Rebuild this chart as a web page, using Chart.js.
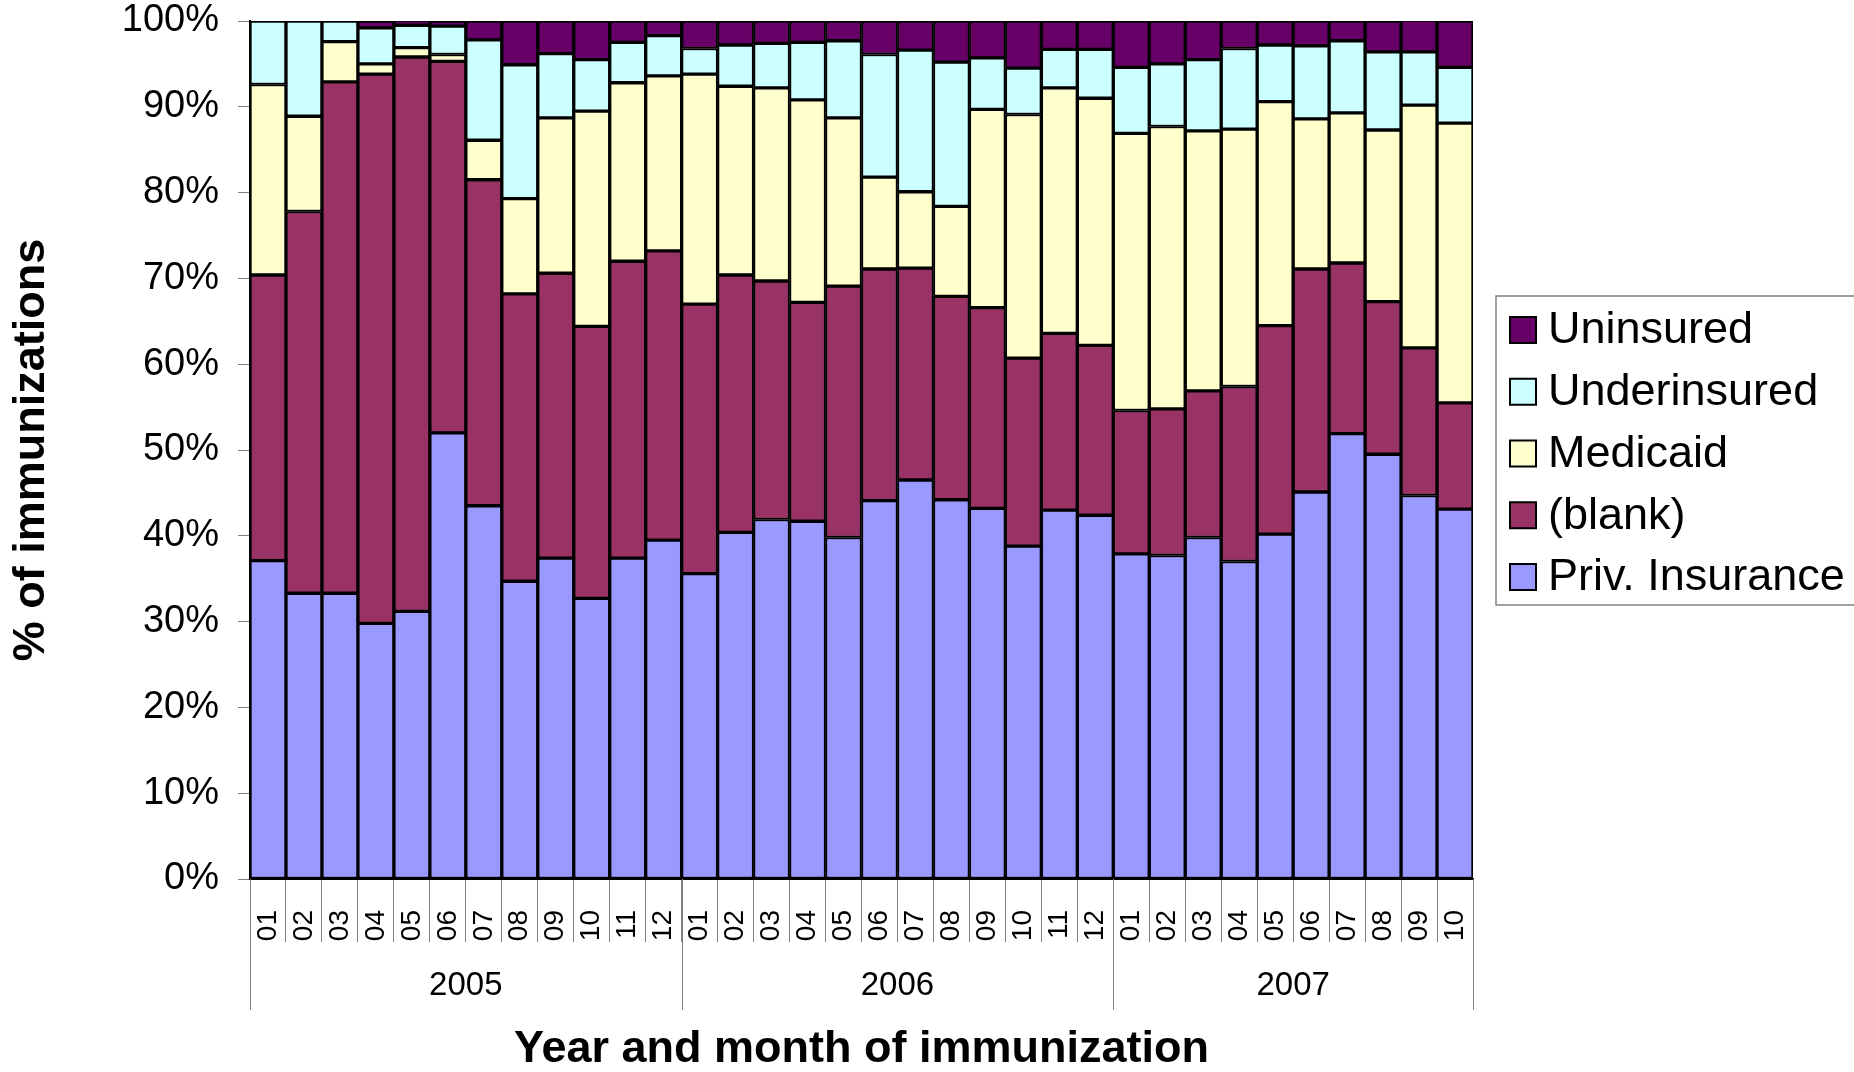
<!DOCTYPE html>
<html>
<head>
<meta charset="utf-8">
<title>Immunizations by insurance type</title>
<script src="https://cdn.jsdelivr.net/npm/chart.js@4.4.1/dist/chart.umd.min.js"></script>
<style>
  html, body { margin: 0; padding: 0; background: #fff; }
  #wrap { width: 1854px; height: 1072px; }
</style>
</head>
<body>
<div id="wrap"><canvas id="chart" width="1854" height="1072"></canvas></div>
<script>
// --- data (percent of immunizations per month) ---
const YEARS = ['2005', '2006', '2007'];
const MONTHS_PER_YEAR = [12, 12, 10];
const MONTHS = [
  '01','02','03','04','05','06','07','08','09','10','11','12',
  '01','02','03','04','05','06','07','08','09','10','11','12',
  '01','02','03','04','05','06','07','08','09','10'
];

const PRIV_INSURANCE = [
  37.1, 33.3, 33.3, 29.8, 31.2, 52.0, 43.5, 34.7, 37.4, 32.7, 37.4, 39.5,
  35.6, 40.4, 41.9, 41.7, 39.8, 44.1, 46.5, 44.2, 43.2, 38.8, 43.0, 42.4,
  37.9, 37.7, 39.8, 37.0, 40.2, 45.1, 51.9, 49.5, 44.7, 43.1
];
const BLANK = [
  33.3, 44.5, 59.6, 64.0, 64.6, 43.3, 38.0, 33.5, 33.2, 31.7, 34.6, 33.7,
  31.4, 30.0, 27.8, 25.5, 29.3, 27.0, 24.7, 23.7, 23.4, 21.9, 20.6, 19.8,
  16.7, 17.1, 17.1, 20.4, 24.3, 26.0, 19.9, 17.8, 17.2, 12.4
];
const MEDICAID = [
  22.2, 11.1, 4.7, 1.2, 1.1, 0.8, 4.6, 11.1, 18.1, 25.1, 20.8, 20.4,
  26.8, 22.0, 22.5, 23.6, 19.6, 10.7, 8.9, 10.5, 23.1, 28.4, 28.6, 28.8,
  32.3, 32.9, 30.3, 30.0, 26.1, 17.5, 17.5, 20.0, 28.3, 32.6
];
const UNDERINSURED = [
  7.4, 11.1, 2.4, 4.2, 2.6, 3.3, 11.7, 15.6, 7.5, 6.0, 4.7, 4.7,
  3.0, 4.8, 5.2, 6.7, 9.0, 14.3, 16.5, 16.8, 6.0, 5.4, 4.5, 5.7,
  7.7, 7.3, 8.3, 9.4, 6.6, 8.5, 8.4, 9.1, 6.2, 6.5
];
const UNINSURED = [
  0, 0, 0, 0.8, 0.6, 0.6, 2.2, 5.1, 3.8, 4.5, 2.5, 1.7,
  3.2, 2.8, 2.6, 2.5, 2.3, 3.9, 3.4, 4.8, 4.3, 5.5, 3.3, 3.3,
  5.4, 5.0, 4.5, 3.2, 2.8, 2.9, 2.3, 3.6, 3.7, 5.4
];

const FONT = '"Liberation Sans", Arial, sans-serif';

const seg = (label, data, color) => ({
  label, data,
  backgroundColor: color,
  borderColor: '#000',
  borderWidth: 2,
  borderSkipped: false,
  categoryPercentage: 1,
  barPercentage: 1
});

// year groups under the month labels
const yearGroups = {
  id: 'yearGroups',
  afterDraw(chart) {
    const { ctx, chartArea, scales: { x } } = chart;
    const half = (x.getPixelForValue(1) - x.getPixelForValue(0)) / 2;
    ctx.save();
    ctx.strokeStyle = '#808080';
    ctx.lineWidth = 1;
    ctx.fillStyle = '#000';
    ctx.font = '33px ' + FONT;
    ctx.textAlign = 'center';
    ctx.textBaseline = 'middle';
    let start = 0;
    YEARS.forEach((yr, i) => {
      const end = start + MONTHS_PER_YEAR[i] - 1;
      const left = x.getPixelForValue(start) - half;
      const right = x.getPixelForValue(end) + half;
      [left, right].forEach(px => {
        ctx.beginPath();
        ctx.moveTo(Math.round(px) + 0.5, chartArea.bottom);
        ctx.lineTo(Math.round(px) + 0.5, 1010);
        ctx.stroke();
      });
      ctx.fillText(yr, (left + right) / 2, 986);
      start = end + 1;
    });
    ctx.restore();
  }
};

// boxed legend on the right, top item = top of stack
const boxLegend = {
  id: 'boxLegend',
  afterDraw(chart) {
    const { ctx } = chart;
    const items = chart.data.datasets.slice().reverse();
    ctx.save();
    ctx.strokeStyle = '#808080';
    ctx.lineWidth = 1.5;
    ctx.strokeRect(1496, 296, 400, 309);
    ctx.font = '45px ' + FONT;
    ctx.textBaseline = 'middle';
    ctx.textAlign = 'left';
    items.forEach((ds, i) => {
      const cy = 330 + i * 61.75;
      ctx.fillStyle = ds.backgroundColor;
      ctx.fillRect(1510, cy - 13, 26, 26);
      ctx.strokeStyle = '#000';
      ctx.lineWidth = 2;
      ctx.strokeRect(1510, cy - 13, 26, 26);
      ctx.fillStyle = '#000';
      ctx.fillText(ds.label, 1548, cy + 1);
    });
    ctx.restore();
  }
};

new Chart(document.getElementById('chart'), {
  type: 'bar',
  data: {
    labels: MONTHS,
    datasets: [
      seg('Priv. Insurance', PRIV_INSURANCE, '#9999FF'),
      seg('(blank)', BLANK, '#993366'),
      seg('Medicaid', MEDICAID, '#FFFFCC'),
      seg('Underinsured', UNDERINSURED, '#CCFFFF'),
      seg('Uninsured', UNINSURED, '#660066')
    ]
  },
  options: {
    responsive: false,
    animation: false,
    layout: { padding: { top: 21, right: 381, bottom: 0, left: 0 } },
    plugins: {
      legend: { display: false },
      tooltip: { enabled: false }
    },
    scales: {
      x: {
        stacked: true,
        grid: {
          offset: true,
          drawOnChartArea: false,
          drawTicks: true,
          tickLength: 63,
          color: '#808080',
          lineWidth: 1
        },
        border: { color: '#000', width: 2 },
        ticks: {
          minRotation: 90,
          maxRotation: 90,
          autoSkip: false,
          padding: -32,
          color: '#000',
          font: { family: FONT, size: 28 }
        },
        title: {
          display: true,
          text: 'Year and month of immunization',
          color: '#000',
          font: { family: FONT, size: 45, weight: 'bold', lineHeight: 1 },
          padding: 0
        },
        afterFit: s => { s.height = 193; }
      },
      y: {
        stacked: true,
        min: 0,
        max: 100,
        grid: {
          drawOnChartArea: false,
          tickLength: 12,
          color: '#808080'
        },
        border: { color: '#000', width: 2 },
        ticks: {
          stepSize: 10,
          padding: 19,
          color: '#000',
          font: { family: FONT, size: 38, lineHeight: 1 },
          callback: v => v + '%'
        },
        title: {
          display: true,
          text: '% of immunizations',
          color: '#000',
          font: { family: FONT, size: 45, weight: 'bold', lineHeight: 1.2 },
          padding: { top: 5, bottom: 0 }
        },
        afterFit: s => {
          s.width = 250;
          s.paddingTop = 0;
          s.paddingBottom = 0;
        }
      }
    }
  },
  plugins: [yearGroups, boxLegend]
});
</script>
</body>
</html>
